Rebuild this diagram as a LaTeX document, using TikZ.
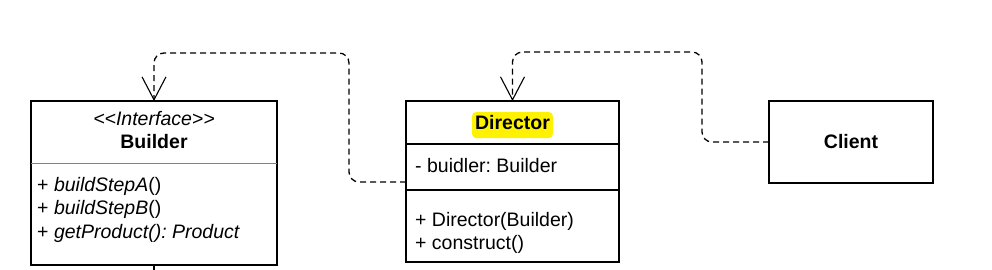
\documentclass[tikz,border=0pt]{standalone}
\usepackage{fontspec}
\setmainfont{Liberation Sans}
\usepackage{xcolor}
\usetikzlibrary{arrows.meta,positioning,calc}
\frenchspacing

\begin{document}
\begin{tikzpicture}[x=1pt, y=-1pt,
  classbox/.style={rectangle, draw=black, line width=1.2pt, outer sep=0pt, inner sep=0pt},
  members/.style={inner sep=0pt, align=left, font=\fontsize{19.5}{23.5}\selectfont},
  title/.style={inner sep=0pt, align=center, font=\fontsize{19.5}{23.5}\selectfont},
  depline/.style={draw, line width=1.3pt, dash pattern=on 6pt off 4pt, rounded corners=10pt, -{Straight Barb[length=23pt, width=24pt, line width=1.1pt]}}]

  \useasboundingbox (0,0) rectangle (992,269);

  % Builder interface
  \node [classbox, minimum width=246pt, minimum height=164pt, anchor=north west] (builder) at (31,101) {};
  \draw [gray, line width=1pt] ([yshift=-62pt]builder.north west) -- ([yshift=-62pt]builder.north east);
  \node [title, anchor=north] (bname) at ([yshift=-9.8pt]builder.north) {\itshape <\kern0pt<Interface>\kern0pt>\\\bfseries Builder};
  \node [members, anchor=north west] (bops) at ([shift={(6pt,-75.8pt)}]builder.north west)
    {+ \textit{buildStepA}()\\+ \textit{buildStepB}()\\+ \textit{getProduct(): Product}};

  % Director class
  \node [classbox, minimum width=213pt, minimum height=43pt, anchor=north west] (dhead) at (406,101) {};
  \node [classbox, minimum width=213pt, minimum height=46pt, below=0pt of dhead] (dattr) {};
  \node [classbox, minimum width=213pt, minimum height=72pt, below=0pt of dattr] (dops) {};
  \node [title, fill=yellow, rounded corners=4pt, inner xsep=3pt, inner ysep=3pt, text height=14pt, text depth=6pt, anchor=base] (dname) at ([yshift=-28pt]dhead.north) {\bfseries Director};
  \node [members, anchor=north west] (dfield) at ([shift={(9pt,-13.7pt)}]dattr.north west) {- buidler: Builder};
  \node [members, anchor=north west] (dmeth) at ([shift={(9pt,-21.8pt)}]dops.north west) {+ Director(Builder)\\+ construct()};

  % Client
  \node [classbox, minimum width=164pt, minimum height=82pt, anchor=north west, title, font=\fontsize{19.5}{23.5}\selectfont\bfseries] (client) at (769,101) {Client};

  % Connectors
  \coordinate (bend1) at (349,53);
  \coordinate (bend2) at (702,52);
  \coordinate (stub) at (154,274);
  \path [depline] ([yshift=8pt]dattr.south west) -| (bend1) -| (builder.north);
  \path [depline] (client.west) -| (bend2) -| (dhead.north);
  \draw [line width=1.2pt] (builder.south) -- (stub);
\end{tikzpicture}
\end{document}
